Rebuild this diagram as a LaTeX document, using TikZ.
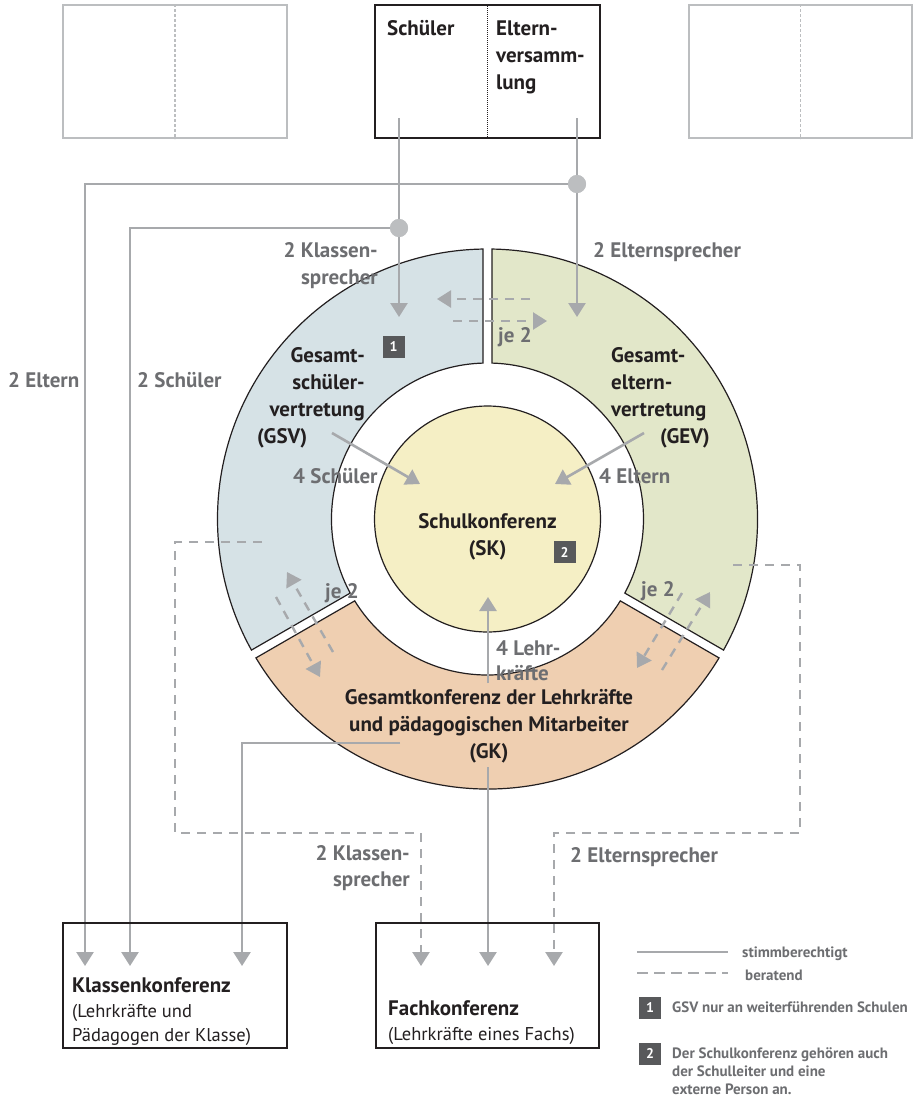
\documentclass[tikz,border=0pt]{standalone}
\usepackage{fontspec}
\setmainfont{PT Sans}
\usetikzlibrary{arrows.meta}
\definecolor{lgray}{HTML}{A7A9AC}
\definecolor{tgray}{HTML}{6D6E71}
\definecolor{dgray}{HTML}{58595B}
\definecolor{txt}{HTML}{231F20}
\definecolor{gsvc}{HTML}{D6E2E6}
\definecolor{gevc}{HTML}{E2E7C9}
\definecolor{gkc}{HTML}{EFCFB1}
\definecolor{skc}{HTML}{F5EFC5}
\definecolor{boxgray}{HTML}{BCBEC0}
\begin{document}
\begin{tikzpicture}[x=1pt,y=1pt,
  tip/.style={-{Triangle[width=17pt,length=14pt]}},
  vote/.style={draw=lgray, line width=2.6pt, tip},
  voteline/.style={draw=lgray, line width=2.6pt},
  advise/.style={draw=lgray, line width=2.4pt, dash pattern=on 9pt off 7pt, tip},
  adviseline/.style={draw=lgray, line width=2.4pt, dash pattern=on 9pt off 7pt},
  lbl/.style={font=\fontsize{21}{27}\selectfont\bfseries, text=tgray, inner sep=0},
  ttl/.style={font=\fontsize{21}{27}\selectfont\bfseries, text=txt, inner sep=0},
  plain/.style={font=\fontsize{18.5}{24}\selectfont, text=txt, inner sep=0},
  legtext/.style={font=\fontsize{15}{18}\selectfont\bfseries, text=tgray, inner sep=0, align=left},
  numbox/.style={fill=dgray, text=white, font=\fontsize{14}{14}\selectfont\bfseries, minimum width=22pt, minimum height=22pt, inner sep=0},
  ring/.style={draw=txt, line width=1.2pt},
  frame/.style={draw=txt, line width=1.3pt},
  ghost/.style={draw=boxgray, line width=2pt},
  junction/.style={circle, fill=boxgray, minimum size=18pt, inner sep=0}
]
\useasboundingbox (0,0) rectangle (919,-1100);
\fill[white] (0,0) rectangle (919,-1100);

% top boxes
\node[ghost, minimum width=224pt, minimum height=133pt, inner sep=0] (tl) at (175,-71.5) {};
\draw[boxgray, line width=1.2pt, densely dashed] (tl.north) -- (tl.south);
\node[ghost, minimum width=223pt, minimum height=133pt, inner sep=0] (tr) at (800.5,-71.5) {};
\draw[boxgray, line width=1.2pt, densely dashed] (tr.north) -- (tr.south);
\node[frame, minimum width=225pt, minimum height=133pt, inner sep=0] (tm) at (487.5,-71.5) {};
\draw[txt, line width=1pt, densely dotted] (tm.north) -- (tm.south);
\node[ttl, anchor=base west] (schueler) at (387,-35) {Schüler};
\node[ttl, anchor=base west, align=left] (eltern) at (496,-89) {Eltern-\\versamm-\\lung};

% ring
\begin{scope}[shift={(487.5,-519)}]
\draw[ring, fill=gsvc] (90.955:270) arc[start angle=90.955,end angle=209.045,radius=270] -- (208.347:156) arc[start angle=208.347,end angle=91.653,radius=156] -- cycle;
\draw[ring, fill=gkc] (210.955:270) arc[start angle=210.955,end angle=329.045,radius=270] -- (328.347:156) arc[start angle=328.347,end angle=211.653,radius=156] -- cycle;
\draw[ring, fill=gevc] (330.955:270) arc[start angle=330.955,end angle=449.045,radius=270] -- (448.347:156) arc[start angle=448.347,end angle=331.653,radius=156] -- cycle;
\end{scope}
\node[circle, ring, fill=skc, minimum size=226pt, inner sep=0] (sk) at (487.5,-519) {};

% coordinates
\coordinate (sS) at (399,-118);
\coordinate (sE) at (577,-118);
\coordinate (gsvIn) at (399,-317);
\coordinate (gevIn) at (577,-317);
\node[junction] (jS) at (399,-228) {};
\node[junction] (jE) at (577,-184) {};
\coordinate (kS) at (130,-228);
\coordinate (kE) at (85,-184);
\coordinate (kkE) at (85,-966);
\coordinate (kkS) at (130,-966);
\coordinate (kkG) at (242,-966);
\coordinate (gkL) at (400,-743);
\coordinate (gkLc) at (242,-743);
\coordinate (fkG) at (488,-966);
\coordinate (fkS) at (421,-966);
\coordinate (fkE) at (554,-966);
\coordinate (gkTop) at (488,-683);
\coordinate (skBot) at (488,-597);
\coordinate (gkBot) at (488,-767);
\coordinate (gsvOut) at (332,-433);
\coordinate (skL) at (420,-484);
\coordinate (gevOut) at (644,-433);
\coordinate (skR) at (555,-484);

% voting lines
\draw[vote] (sS) -- (gsvIn);
\draw[vote] (sE) -- (gevIn);
\draw[vote] (jS) -- (kS) -- (kkS);
\draw[vote] (jE) -- (kE) -- (kkE);
\node[junction] at (jS) {};
\node[junction] at (jE) {};
\draw[vote] (gsvOut) -- (skL);
\draw[vote] (gevOut) -- (skR);
\draw[vote] (gkTop) -- (skBot);
\draw[vote] (gkBot) -- (fkG);
\draw[vote] (gkL) -- (gkLc) -- (kkG);

% advisory lines
\coordinate (a1s) at (530,-299); \coordinate (a1e) at (437,-299);
\coordinate (a2s) at (453,-321); \coordinate (a2e) at (547,-321);
\coordinate (a3s) at (333,-652); \coordinate (a3e) at (287,-572);
\coordinate (a4s) at (276,-597); \coordinate (a4e) at (320,-677);
\coordinate (a5s) at (662,-670); \coordinate (a5e) at (710,-592);
\coordinate (a6s) at (682,-593); \coordinate (a6e) at (637,-668);
\draw[advise] (a1s) -- (a1e);
\draw[advise] (a2s) -- (a2e);
\draw[advise] (a3s) -- (a3e);
\draw[advise] (a4s) -- (a4e);
\draw[advise] (a5s) -- (a5e);
\draw[advise] (a6s) -- (a6e);
\coordinate (dLs) at (262,-542); \coordinate (dL1) at (175,-542); \coordinate (dL2) at (175,-833); \coordinate (dL3) at (421,-833);
\coordinate (dRs) at (733,-565); \coordinate (dR1) at (800,-565); \coordinate (dR2) at (800,-833); \coordinate (dR3) at (554,-833);
\draw[advise] (dLs) -- (dL1) -- (dL2) -- (dL3) -- (fkS);
\draw[advise] (dRs) -- (dR1) -- (dR2) -- (dR3) -- (fkE);

% labels on lines
\node[lbl, anchor=base east, align=right] (l1) at (378,-284) {2 Klassen-\\sprecher};
\node[lbl, anchor=base west] (l2) at (593,-257) {2 Elternsprecher};
\node[lbl, anchor=base west] (l3) at (498,-342) {je 2};
\node[lbl, anchor=base west] (l4) at (8,-387) {2 Eltern};
\node[lbl, anchor=base west] (l5) at (137,-387) {2 Schüler};
\node[lbl, anchor=base west] (l6) at (293,-483) {4 Schüler};
\node[lbl, anchor=base west] (l7) at (599,-483) {4 Eltern};
\node[lbl, anchor=base west] (l8) at (325,-598) {je 2};
\node[lbl, anchor=base west] (l9) at (641,-596) {je 2};
\node[lbl, anchor=base west, align=left, font=\fontsize{21}{25}\selectfont\bfseries] (l10) at (496,-680) {4 Lehr-\\kräfte};
\node[lbl, anchor=base east, align=right, font=\fontsize{21}{26}\selectfont\bfseries] (l11) at (410,-886) {2 Klassen-\\sprecher};
\node[lbl, anchor=base west] (l12) at (570,-862) {2 Elternsprecher};

% titles
\node[ttl, anchor=base east, align=right] (gsv) at (365,-416) {Gesamt-\\schüler-\\vertretung};
\node[ttl, anchor=base west] (gsvab) at (257,-443) {(GSV)};
\node[ttl, anchor=base west, align=left] (gev) at (611,-416) {Gesamt-\\eltern-\\vertretung};
\node[ttl, anchor=base east] (gevab) at (710,-443) {(GEV)};
\node[ttl, anchor=base, align=center] (skt) at (487.5,-555) {Schulkonferenz\\(SK)};
\node[ttl, anchor=base, align=center] (gkt) at (489,-758) {Gesamtkonferenz der Lehrkräfte\\und pädagogischen Mitarbeiter\\(GK)};
\node[numbox] (n1) at (393.5,-347) {1};
\node[numbox] (n2) at (564.5,-552) {2};

% bottom boxes
\node[frame, minimum width=224pt, minimum height=125pt, inner sep=0] (kk) at (175,-985.5) {};
\node[ttl, anchor=base west] (kkt) at (72,-992) {Klassenkonferenz};
\node[plain, anchor=base west, align=left] (kkd) at (72,-1041) {(Lehrkräfte und\\Pädagogen der Klasse)};
\node[frame, minimum width=223pt, minimum height=125pt, inner sep=0] (fk) at (487.5,-985.5) {};
\node[ttl, anchor=base west] (fkt) at (388,-1015) {Fachkonferenz};
\node[plain, anchor=base west] (fkd) at (388,-1040) {(Lehrkräfte eines Fachs)};

% legend
\coordinate (lg1a) at (637,-952); \coordinate (lg1b) at (728,-952);
\coordinate (lg2a) at (637,-973); \coordinate (lg2b) at (728,-973);
\draw[voteline] (lg1a) -- (lg1b);
\draw[adviseline, dash pattern=on 11pt off 6pt] (lg2a) -- (lg2b);
\node[legtext, anchor=base west] (lt1) at (742,-957) {stimmberechtigt};
\node[legtext, anchor=base west] (lt2) at (745,-980) {beratend};
\node[numbox] (ln1) at (650,-1007.5) {1};
\node[legtext, anchor=base west] (lt3) at (672,-1012) {GSV nur an weiterführenden Schulen};
\node[numbox] (ln2) at (650,-1053.5) {2};
\node[legtext, anchor=base west] (lt4) at (672,-1094) {Der Schulkonferenz gehören auch\\der Schulleiter und eine\\externe Person an.};
\end{tikzpicture}
\end{document}
